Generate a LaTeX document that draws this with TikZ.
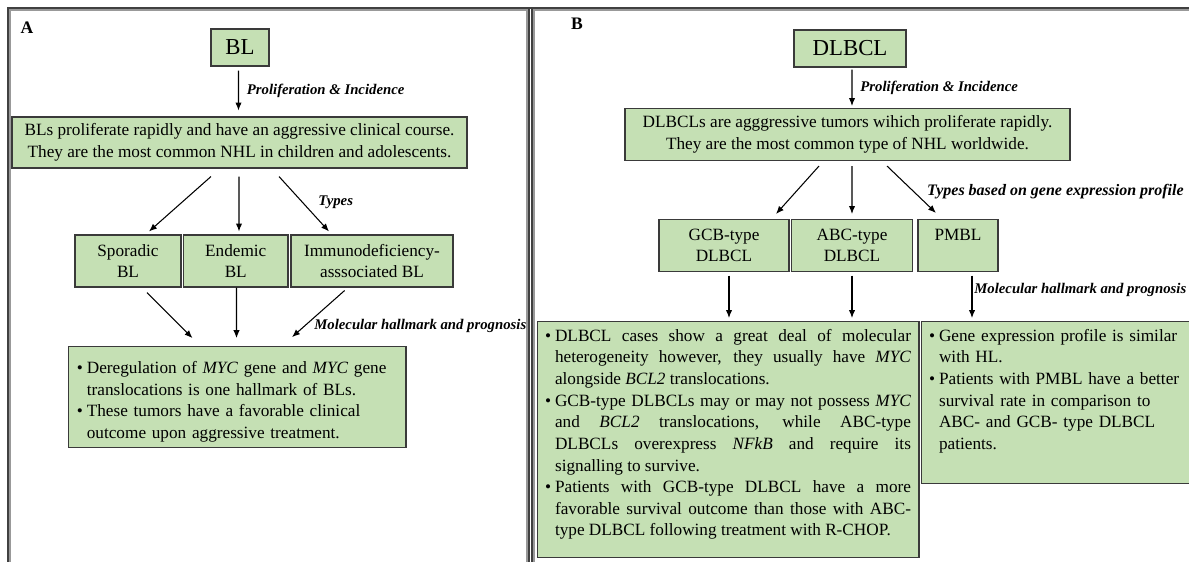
\documentclass[tikz,border=0pt]{standalone}
\usepackage{fontspec}
\setmainfont{Liberation Serif}
\usepackage{xcolor}
\usetikzlibrary{calc,arrows.meta}

\definecolor{boxgreen}{HTML}{C5E0B4}
\definecolor{boxline}{HTML}{3A3A3A}

\newcommand{\maintext}{\fontsize{9.8}{12.3}\selectfont}
\newcommand{\labtext}{\fontsize{8.4}{10}\selectfont\bfseries\itshape}
\newcommand{\headtext}{\fontsize{13}{15}\selectfont}
\newcommand{\paneltext}{\fontsize{10}{12}\selectfont\bfseries}

\newlength{\bulind}
\setlength{\bulind}{5.7pt}
\newcommand{\bul}{\par\noindent\hangindent=\bulind\hangafter=1\makebox[\bulind][l]{\textbullet}}
\newcommand{\padbottom}[1]{\par\hrule height 0pt depth #1 width 0pt}
\hyphenpenalty=10000

\begin{document}
\begin{tikzpicture}[x=0.02cm, y=-0.02cm,
  >={Latex[length=4.5pt,width=3.6pt]},
  box/.style={draw=boxline, fill=boxgreen, line width=0.6pt, inner sep=2pt,
    align=center, font=\maintext},
  sz/.style 2 args={minimum width=#1*0.02cm, minimum height=#2*0.02cm},
  listbox/.style={box, align=left, inner xsep=0.16cm, inner ysep=3pt},
  lab/.style={font=\labtext, inner sep=1pt},
  arr/.style={->, line width=0.6pt}]

  \useasboundingbox (0,0) rectangle (1189,561);
  \clip (0,0) rectangle (1189,561);
  \fill[white] (0,0) rectangle (1189,561);

  % Panel frames.
  \draw[black!40, line width=0.8pt] (10,10) rectangle (527,600);
  \draw[black!40, line width=0.8pt] (534,10) rectangle (1200,600);
  \draw[black!75, line width=0.6pt] (8,600) -- (8,8) -- (1200,8);
  \draw[black!75, line width=0.6pt] (529,600) -- (529,8);
  \draw[black!75, line width=0.6pt] (532,600) -- (532,8);

  % Panel A: BL.
  \node[font=\paneltext] (pa) at (27,28) {A};
  \node[box, sz={58}{37}, font=\headtext] (bl) at (240,47.5) {BL};
  \node[box, sz={455}{51}] (blmain) at (239.5,142.5)
    {BLs proliferate rapidly and have an aggressive clinical course.\\
     They are the most common NHL in children and adolescents.};
  \node[box, sz={106}{52}] (spor) at (128,261) {Sporadic\\BL};
  \node[box, sz={104.5}{52}] (endem) at (235.75,261) {Endemic\\BL};
  \node[box, sz={162}{52}] (immuno) at (372,261) {Immunodeficiency-\\asssociated BL};
  \node[listbox, sz={337.4}{92}, text width=6.42cm] (blout) at (237.3,397)
    {\bul Deregulation of \textit{MYC} gene and \textit{MYC} gene\newline
     translocations is one hallmark of BLs.
     \bul These tumors have a favorable clinical\newline
     outcome upon aggressive treatment.\par};

  \draw[arr] ($(bl.south)+(-1.5,4)$)
    -- node[lab, right=3.5pt] {Proliferation \& Incidence} ($(blmain.north)+(-1,-6)$);
  \draw[arr] ($(blmain.south)+(-28.5,8)$) -- ($(spor.north)+(21,-3)$);
  \draw[arr] ($(blmain.south)+(-0.5,8)$) -- ($(endem.north)+(3.25,-3)$);
  \draw[arr] ($(blmain.south)+(39.5,8)$)
    -- node[lab, pos=0.46, right=8pt] {Types} ($(immuno.north)+(-43,-3)$);
  \draw[arr] ($(spor.south)+(19,5)$) -- ($(blout.north)+(-44.8,-8)$);
  \draw[arr] ($(endem.south)+(0.75,0)$) -- ($(blout.north)+(-0.8,-8)$);
  \draw[arr] ($(immuno.south)+(-27.4,3)$)
    -- node[lab, pos=0.77, right=4.5pt] {Molecular hallmark and prognosis}
    ($(blout.north)+(54.7,-9)$);

  % Panel B: DLBCL.
  \node[font=\paneltext] (pb) at (577,24) {B};
  \node[box, sz={112}{37}, font=\headtext] (dl) at (850,48.5) {DLBCL};
  \node[box, sz={445}{52}] (dlmain) at (847.5,134.5)
    {DLBCLs are agggressive tumors wihich proliferate rapidly.\\
     They are the most common type of NHL worldwide.};
  \node[box, sz={130}{52}] (gcb) at (724,245.5) {GCB-type\\DLBCL};
  \node[box, sz={120.5}{52}] (abc) at (852,245.5) {ABC-type\\DLBCL};
  \node[box, sz={80}{52}] (pmbl) at (958,245.5) {PMBL\\~};
  \node[listbox, align=justify, inner ysep=1pt, minimum width=7.64cm,
    text width=7.32cm, anchor=north] (dlout) at (728,321)
    {\vspace*{-2pt}
     \bul DLBCL cases show a great deal of molecular\linebreak
     heterogeneity however, they usually have \textit{MYC}\linebreak
     alongside \textit{BCL2} translocations.
     \bul GCB-type DLBCLs may or may not possess \textit{MYC}\linebreak
     and \textit{BCL2} translocations, while ABC-type\linebreak
     DLBCLs overexpress \textit{NFkB} and require its\linebreak
     signalling to survive.
     \bul Patients with GCB-type DLBCL have a more\linebreak
     favorable survival outcome than those with ABC-\linebreak
     type DLBCL following treatment with R-CHOP.\padbottom{9pt}};
  \node[listbox, inner ysep=1pt, minimum width=5.58cm, text width=5.26cm,
    anchor=north] (pmout) at (1060.5,321)
    {\vspace*{-2pt}
     \bul Gene expression profile is similar\newline
     with HL.
     \bul Patients with PMBL have a better\newline
     survival rate in comparison to\newline
     ABC- and GCB- type DLBCL\newline
     patients.\padbottom{16.4pt}};

  \draw[arr] ($(dl.south)+(2,2)$)
    -- node[lab, right=3.5pt] {Proliferation \& Incidence} ($(dlmain.north)+(4.5,-2)$);
  \draw[arr] ($(dlmain.south)+(-28.5,5)$) -- ($(gcb.north)+(52,-5)$);
  \draw[arr] ($(dlmain.south)+(4.5,5)$) -- ($(abc.north)+(0,-5)$);
  \draw[arr] ($(dlmain.south)+(39.5,5)$)
    -- node[lab, pos=0.54, right=6.5pt, font=\fontsize{9.1}{10}\selectfont\bfseries\itshape]
    {Types based on gene expression profile} ($(pmbl.north)+(-22,-6)$);
  \draw[arr] ($(gcb.south)+(5,3.5)$) -- ($(dlout.north)+(1,-3)$);
  \draw[arr] ($(abc.south)+(0,3.5)$) -- ($(dlout.north)+(124,-3)$);
  \draw[arr] ($(pmbl.south)+(14,3.5)$)
    -- node[lab, pos=0.35, right=0pt] {Molecular hallmark and prognosis}
    ($(pmout.north)+(-88.5,-3)$);
\end{tikzpicture}
\end{document}
